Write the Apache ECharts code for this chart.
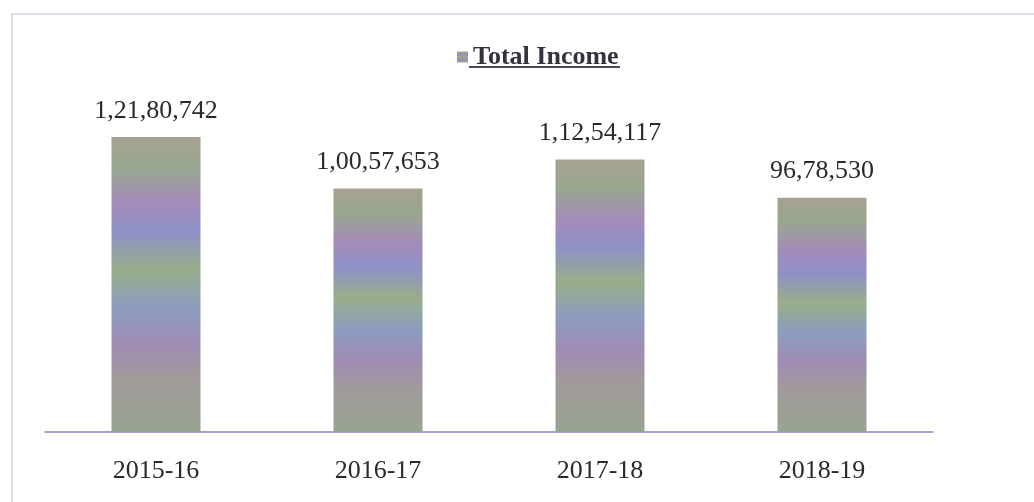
<!DOCTYPE html>
<html><head><meta charset="utf-8">
<script src="https://cdn.jsdelivr.net/npm/echarts@6/dist/echarts.min.js"></script>
<style>html,body{margin:0;padding:0;background:#fff}#c{width:1034px;height:502px}</style>
</head><body><div id="c"></div>
<script>
const categories = ['2015-16', '2016-17', '2017-18', '2018-19'];
const totalIncome = [12180742, 10057653, 11254117, 9678530];
const seriesName = 'Total Income';

function indianFormat(n) {
  const s = String(n);
  if (s.length <= 3) return s;
  const last3 = s.slice(-3);
  let rest = s.slice(0, -3);
  const parts = [];
  while (rest.length > 2) { parts.unshift(rest.slice(-2)); rest = rest.slice(0, -2); }
  if (rest.length) parts.unshift(rest);
  return parts.join(',') + ',' + last3;
}

const barGradient = new echarts.graphic.LinearGradient(0, 0, 0, 1, [
  { offset: 0.00, color: '#a8a092' },
  { offset: 0.10, color: '#98a88e' },
  { offset: 0.22, color: '#a58bb8' },
  { offset: 0.32, color: '#8e90c8' },
  { offset: 0.45, color: '#98ae8a' },
  { offset: 0.58, color: '#8c9cc0' },
  { offset: 0.70, color: '#a08cb4' },
  { offset: 0.82, color: '#a19a9a' },
  { offset: 1.00, color: '#98a492' }
]);

const chart = echarts.init(document.getElementById('c'));
chart.setOption({
  backgroundColor: '#ffffff',
  animation: false,
  legend: {
    data: [seriesName],
    top: 39,
    left: 452,
    itemWidth: 11,
    itemHeight: 11,
    itemGap: 6,
    icon: 'rect',
    textStyle: { fontFamily: 'Liberation Serif', fontWeight: 'bold', fontSize: 26, color: '#333340' }
  },
  grid: { left: 45, right: 101, top: 93, bottom: 70 },
  xAxis: {
    type: 'category',
    data: categories,
    axisLine: { show: true, lineStyle: { color: '#8a84c8', width: 1.5 } },
    axisTick: { show: false },
    axisLabel: { fontFamily: 'Liberation Serif', fontSize: 26, color: '#2a2a2a', margin: 26 }
  },
  yAxis: {
    type: 'value', min: 0, max: 14000000,
    show: false,
    splitLine: { show: false }
  },
  graphic: [
    { type: 'line', shape: { x1: 469, y1: 67, x2: 620, y2: 67 }, style: { stroke: '#4a4a5a', lineWidth: 2 } },
    { type: 'rect', shape: { x: 12, y: 14, width: 1030, height: 500 }, style: { fill: 'none', stroke: '#d8d0e0', lineWidth: 1.5 } }
  ],
  series: [{
    name: seriesName,
    type: 'bar',
    data: totalIncome,
    barWidth: 89,
    itemStyle: { color: barGradient },
    label: {
      show: true,
      position: 'top',
      distance: 13,
      formatter: p => indianFormat(p.value),
      fontFamily: 'Liberation Serif',
      fontSize: 26,
      color: '#2a2a2a'
    }
  }]
});
</script></body></html>
